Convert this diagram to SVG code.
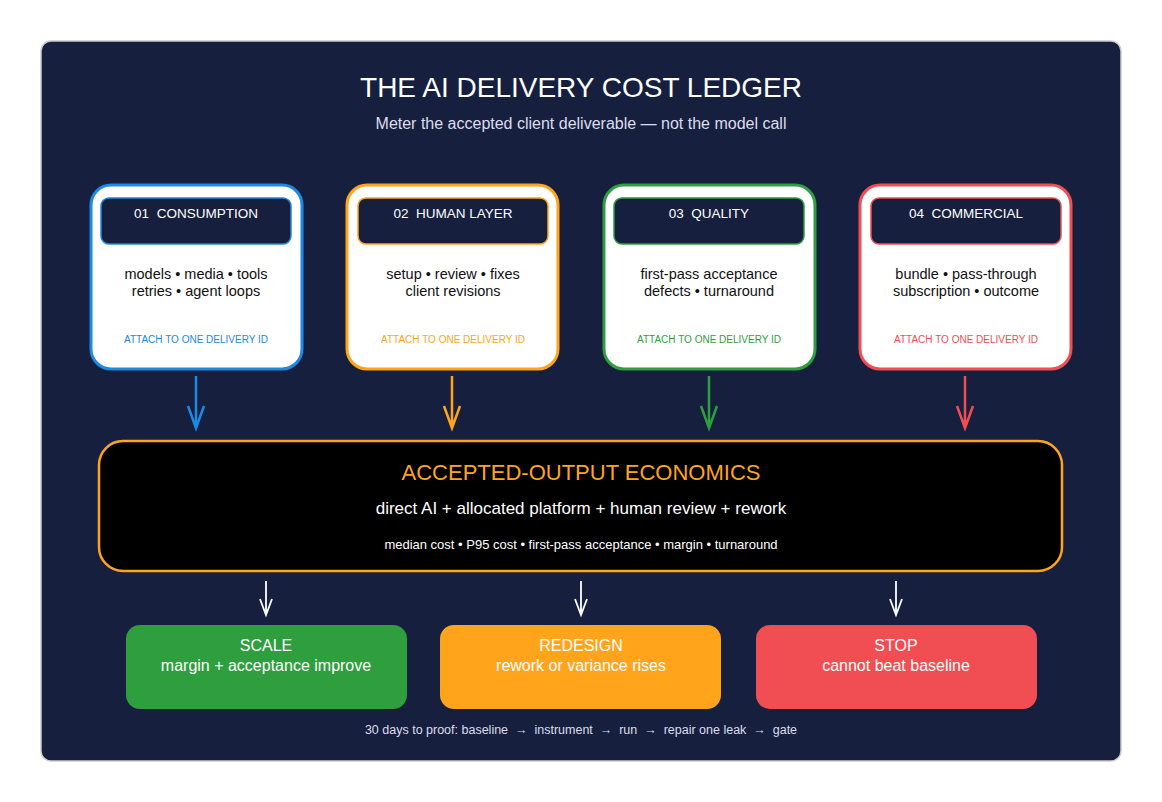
<svg xmlns="http://www.w3.org/2000/svg" width="1162" height="802" viewBox="0 0 1162 802">
<style>
text{font-family:"Liberation Sans",Arial,sans-serif;text-anchor:middle;white-space:pre}
.card{fill:#fff;stroke-width:3}
.hd{fill:#16203e;stroke-width:1.5}
.ht{fill:#fff;font-size:13.5px}
.bt{fill:#111;font-size:14.5px}
.at{font-size:10px}
.ar{fill:none;stroke-width:2.5}
.wa{fill:none;stroke:#fff;stroke-width:1.8}
.ot{fill:#fff;font-size:16px}
</style>
<rect width="1162" height="802" fill="#fff"/>
<rect x="41" y="41" width="1080" height="720" rx="10" fill="#16203e" stroke="#ccc" stroke-width="1.5"/>
<text x="581" y="97" fill="#fff" font-size="28">THE AI DELIVERY COST LEDGER</text>
<text x="581" y="129" fill="#dde" font-size="16">Meter the accepted client deliverable — not the model call</text>
<g id="n1"><rect class="card" x="91" y="185" width="211" height="184" rx="20" stroke="#1e88e5"/><rect class="hd" x="101" y="198" width="190" height="46" rx="8" stroke="#1e88e5"/><text class="ht" x="196" y="218">01  CONSUMPTION</text><text class="bt" x="196" y="279">models • media • tools</text><text class="bt" x="196" y="296">retries • agent loops</text><text class="at" x="196" y="343" fill="#1e88e5">ATTACH TO ONE DELIVERY ID</text></g>
<g id="n2"><rect class="card" x="347" y="185" width="211" height="184" rx="20" stroke="#ffa41b"/><rect class="hd" x="358" y="198" width="190" height="46" rx="8" stroke="#ffa41b"/><text class="ht" x="453" y="218">02  HUMAN LAYER</text><text class="bt" x="453" y="279">setup • review • fixes</text><text class="bt" x="453" y="296">client revisions</text><text class="at" x="453" y="343" fill="#ffa41b">ATTACH TO ONE DELIVERY ID</text></g>
<g id="n3"><rect class="card" x="604" y="185" width="211" height="184" rx="20" stroke="#2e9e3e"/><rect class="hd" x="614" y="198" width="190" height="46" rx="8" stroke="#2e9e3e"/><text class="ht" x="709" y="218">03  QUALITY</text><text class="bt" x="709" y="279">first-pass acceptance</text><text class="bt" x="709" y="296">defects • turnaround</text><text class="at" x="709" y="343" fill="#2e9e3e">ATTACH TO ONE DELIVERY ID</text></g>
<g id="n4"><rect class="card" x="860" y="185" width="211" height="184" rx="20" stroke="#f04e52"/><rect class="hd" x="871" y="198" width="190" height="46" rx="8" stroke="#f04e52"/><text class="ht" x="966" y="218">04  COMMERCIAL</text><text class="bt" x="966" y="279">bundle • pass-through</text><text class="bt" x="966" y="296">subscription • outcome</text><text class="at" x="966" y="343" fill="#f04e52">ATTACH TO ONE DELIVERY ID</text></g>
<g id="econ"><rect x="99" y="441" width="963" height="130" rx="24" fill="#000" stroke="#ffa41b" stroke-width="2.5"/><text x="581" y="480" fill="#ffa41b" font-size="22">ACCEPTED-OUTPUT ECONOMICS</text><text x="581" y="514" fill="#fff" font-size="17">direct AI + allocated platform + human review + rework</text><text x="581" y="549" fill="#fff" font-size="13">median cost • P95 cost • first-pass acceptance • margin • turnaround</text></g>
<g id="o1"><rect x="126" y="625" width="281" height="84" rx="14" fill="#2e9e3e"/><text class="ot" x="266" y="651">SCALE</text><text class="ot" x="266" y="671">margin + acceptance improve</text></g>
<g id="o2"><rect x="440" y="625" width="281" height="84" rx="14" fill="#ffa41b"/><text class="ot" x="581" y="651">REDESIGN</text><text class="ot" x="581" y="671">rework or variance rises</text></g>
<g id="o3"><rect x="756" y="625" width="281" height="84" rx="14" fill="#f04e52"/><text class="ot" x="896" y="651">STOP</text><text class="ot" x="896" y="671">cannot beat baseline</text></g>
<g id="connectors">
<g class="ar" stroke="#1e88e5"><path d="M196 376V427M188 406L196 428L204 406"/></g>
<g class="ar" stroke="#ffa41b"><path d="M452 376V427M444 406L452 428L460 406"/></g>
<g class="ar" stroke="#2e9e3e"><path d="M709 376V427M701 406L709 428L717 406"/></g>
<g class="ar" stroke="#f04e52"><path d="M965 376V427M957 406L965 428L973 406"/></g>
<path class="wa" d="M266 581V614M260 599L266 615L272 599"/>
<path class="wa" d="M581 581V614M575 599L581 615L587 599"/>
<path class="wa" d="M896 581V614M890 599L896 615L902 599"/>
</g>
<text x="581" y="734" fill="#dde" font-size="12.5">30 days to proof: baseline  →  instrument  →  run  →  repair one leak  →  gate</text>
</svg>
